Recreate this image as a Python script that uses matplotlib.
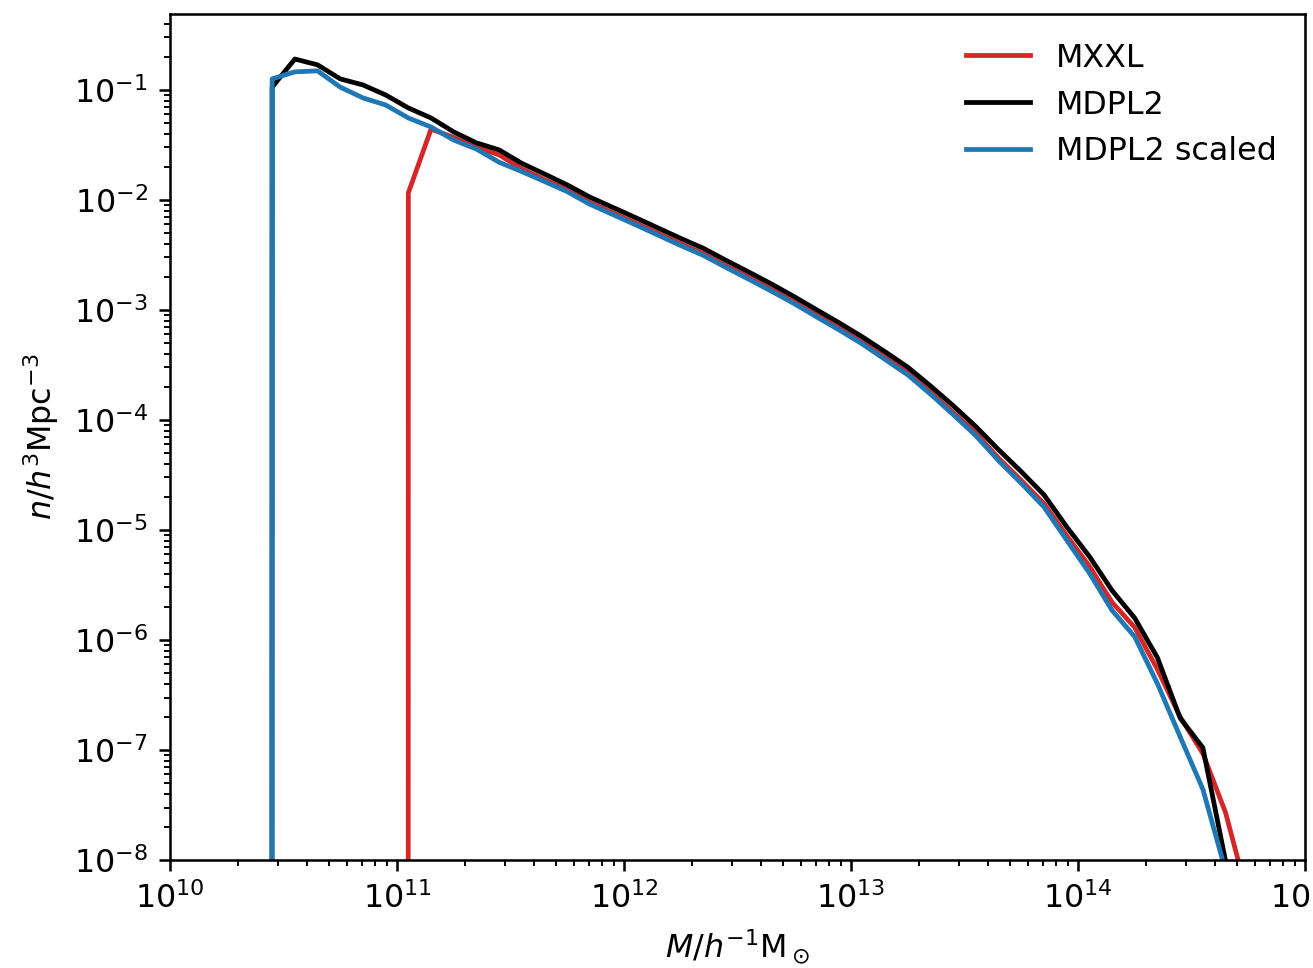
import matplotlib
matplotlib.use("Agg")
import matplotlib.pyplot as plt
import numpy as np

log_mass = [10.35, 10.45, 10.55, 10.65, 10.75, 10.85, 10.95, 11.05, 11.15, 11.25,
            11.35, 11.45, 11.55, 11.65, 11.75, 11.85, 11.95, 12.05, 12.15, 12.25,
            12.35, 12.45, 12.55, 12.65, 12.75, 12.85, 12.95, 13.05, 13.15, 13.25,
            13.35, 13.45, 13.55, 13.65, 13.75, 13.85, 13.95, 14.05, 14.15, 14.25,
            14.35, 14.45, 14.55, 14.65, 14.75, 14.85]

mxxl = [0, 0, 0, 0, 0, 0, 0, 0.0116, 0.044, 0.037,
        0.030, 0.0257, 0.0192, 0.0153, 0.0124, 0.0095, 0.00767, 0.00619, 0.00498, 0.0040,
        0.00325, 0.00252, 0.00198, 0.00154, 0.00118, 0.000895, 0.000679, 0.000509, 0.000372, 0.000269,
        0.000180, 0.000117, 0.000076, 0.000045, 0.0000282, 0.0000174, 8.9e-6, 4.7e-6, 2.2e-6, 1.3e-6,
        5.4e-7, 2.0e-7, 9.3e-8, 2.7e-8, 4.5e-9, 0]

mdpl2 = [0, 0.106, 0.191, 0.169, 0.126, 0.111, 0.090, 0.0686, 0.0556, 0.0415,
         0.033, 0.0285, 0.0215, 0.0172, 0.0137, 0.0106, 0.00857, 0.00692, 0.00556, 0.00447,
         0.00363, 0.00282, 0.00221, 0.00172, 0.00132, 0.00100, 0.000759, 0.000569, 0.000417, 0.000302,
         0.000204, 0.000135, 0.000087, 0.0000537, 0.0000339, 0.0000209, 1.07e-5, 5.75e-6, 2.82e-6, 1.58e-6,
         6.9e-7, 1.95e-7, 1.05e-7, 9.8e-9, 0, 0]

mdpl2_scaled = [0, 0.126, 0.146, 0.149, 0.106, 0.0846, 0.073, 0.0556, 0.046, 0.035,
                0.029, 0.022, 0.0181, 0.0147, 0.0119, 0.00913, 0.00738, 0.00596, 0.00479, 0.00385,
                0.00313, 0.00243, 0.00190, 0.00148, 0.00114, 0.000861, 0.000654, 0.000490, 0.000355, 0.000257,
                0.000172, 0.000112, 0.000072, 0.0000427, 0.0000266, 0.0000162, 8.1e-6, 4.07e-6, 1.86e-6, 1.07e-6,
                4.0e-7, 1.32e-7, 4.4e-8, 8e-9, 0, 0]

mass = 10.0 ** np.array(log_mass)

DPI = 229
fig = plt.figure(figsize=(1313 / DPI, 968 / DPI), dpi=DPI)
ax = fig.add_axes([170 / 1313, 108 / 968, 1135 / 1313, 846 / 968])

ax.plot(mass, mxxl, color="#d62728", label="MXXL")
ax.plot(mass, mdpl2, color="black", label="MDPL2")
ax.plot(mass, mdpl2_scaled, color="#1f77b4", label="MDPL2 scaled")

ax.set_xscale("log")
ax.set_yscale("log")
ax.set_xlim(1e10, 1e15)
ax.set_ylim(1e-8, 0.49)
ax.set_xlabel(r"$M/h^{-1}\mathrm{M}_\odot$")
ax.set_ylabel(r"$n/h^3\mathrm{Mpc}^{-3}$")
ax.legend(loc="upper right", frameon=False)

fig.savefig("out.png", dpi=DPI)
